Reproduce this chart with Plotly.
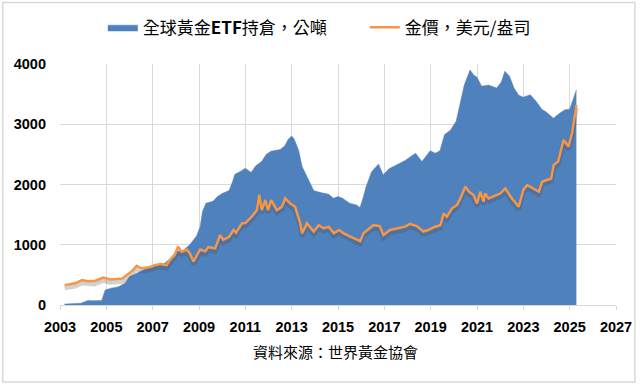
import plotly.graph_objects as go

# ---- data ----
etf_year = [2003.2, 2003.6, 2003.9, 2004.1, 2004.2, 2004.4, 2004.8, 2004.95, 2005.2, 2005.5,
            2005.8, 2006.0, 2006.3, 2006.6, 2007.0, 2007.5, 2007.8, 2008.0, 2008.3, 2008.6,
            2008.9, 2009.05, 2009.15, 2009.3, 2009.6, 2009.8, 2010.0, 2010.3, 2010.45, 2010.55,
            2010.8, 2011.0, 2011.25, 2011.45, 2011.7, 2011.9, 2012.1, 2012.3, 2012.5, 2012.7,
            2012.85, 2013.0, 2013.1, 2013.3, 2013.45, 2013.6, 2013.8, 2013.95, 2014.2, 2014.45,
            2014.6, 2014.8, 2015.0, 2015.2, 2015.5, 2015.8, 2015.95, 2016.1, 2016.2, 2016.45,
            2016.75, 2016.95, 2017.2, 2017.5, 2017.9, 2018.2, 2018.35, 2018.62, 2018.98, 2019.2,
            2019.4, 2019.6, 2019.85, 2020.1, 2020.3, 2020.45, 2020.6, 2020.7, 2020.85, 2021.0,
            2021.2, 2021.5, 2021.85, 2022.05, 2022.2, 2022.4, 2022.6, 2022.8, 2023.0, 2023.3,
            2023.55, 2023.8, 2024.0, 2024.3, 2024.55, 2024.8, 2025.0, 2025.15, 2025.29]
etf_tonnes = [15, 20, 30, 60, 75, 70, 75, 250, 280, 300,
              360, 470, 530, 580, 640, 690, 780, 880, 900, 1000,
              1150, 1300, 1550, 1690, 1720, 1800, 1850, 1900, 2050, 2170,
              2220, 2270, 2200, 2310, 2380, 2500, 2550, 2560, 2580, 2640,
              2750, 2805, 2760, 2570, 2300, 2180, 2020, 1900, 1870, 1855,
              1840, 1770, 1800, 1770, 1690, 1660, 1620, 1800, 1950, 2210,
              2340, 2160, 2260, 2320, 2400, 2480, 2520, 2380, 2560, 2520,
              2560, 2830, 2900, 3050, 3400, 3650, 3800, 3900, 3820, 3780,
              3630, 3650, 3600, 3700, 3880, 3800, 3600, 3480, 3450, 3490,
              3380, 3250, 3200, 3100, 3180, 3240, 3250, 3400, 3570]

gold_year = [2003.2, 2003.4, 2003.65, 2003.95, 2004.2, 2004.35, 2004.5, 2004.87, 2005.16, 2005.45,
             2005.7, 2005.88, 2006.1, 2006.31, 2006.5, 2006.7, 2006.89, 2007.1, 2007.32, 2007.6,
             2007.75, 2007.95, 2008.1, 2008.25, 2008.47, 2008.6, 2008.76, 2008.9, 2009.05, 2009.27,
             2009.4, 2009.7, 2009.91, 2010.05, 2010.3, 2010.49, 2010.6, 2010.85, 2011.0, 2011.28,
             2011.5, 2011.6, 2011.71, 2011.86, 2011.98, 2012.12, 2012.36, 2012.58, 2012.72, 2012.94,
             2013.15, 2013.37, 2013.45, 2013.66, 2013.95, 2014.17, 2014.38, 2014.6, 2014.82, 2015.04,
             2015.25, 2015.53, 2015.8, 2015.96, 2016.1, 2016.3, 2016.53, 2016.8, 2016.96, 2017.25,
             2017.6, 2017.9, 2018.1, 2018.4, 2018.69, 2018.9, 2019.2, 2019.42, 2019.56, 2019.7,
             2019.92, 2020.14, 2020.28, 2020.5, 2020.65, 2020.85, 2021.0, 2021.14, 2021.28, 2021.35,
             2021.5, 2021.72, 2022.0, 2022.22, 2022.5, 2022.8, 2023.0, 2023.17, 2023.45, 2023.67,
             2023.81, 2024.0, 2024.2, 2024.31, 2024.5, 2024.74, 2024.95, 2025.1, 2025.2, 2025.29]
gold_usd = [330, 340, 360, 415, 395, 400, 400, 455, 425, 430,
            440, 500, 560, 650, 610, 620, 630, 660, 680, 660,
            750, 830, 970, 880, 920, 860, 720, 820, 920, 890,
            960, 940, 1160, 1080, 1130, 1245, 1200, 1355, 1360, 1465,
            1575, 1825, 1575, 1740, 1575, 1740, 1575, 1630, 1770, 1685,
            1630, 1355, 1190, 1355, 1220, 1325, 1270, 1300, 1190, 1245,
            1190, 1135, 1080, 1060, 1190, 1250, 1325, 1310, 1160, 1245,
            1270, 1300, 1345, 1310, 1220, 1245, 1300, 1325, 1520, 1465,
            1605, 1660, 1770, 1965, 1880, 1825, 1685, 1880, 1715, 1850,
            1770, 1800, 1850, 1935, 1770, 1630, 1910, 1990, 1935, 1880,
            2045, 2075, 2100, 2325, 2380, 2740, 2630, 2850, 3070, 3320]

x_ticks = [2003, 2005, 2007, 2009, 2011, 2013, 2015, 2017, 2019, 2021, 2023, 2025, 2027]
y_ticks = [0, 1000, 2000, 3000, 4000]

name_etf = "全球黃金<b>ETF</b>持倉，公噸"
name_gold = "金價，美元/盎司"
source_text = "資料來源：世界黃金協會"

BLUE = "#4F81BD"
ORANGE = "#F79646"
GRID = "#D9D9D9"
CJK = "Noto Sans CJK TC"
TICKFONT = dict(family="Liberation Sans, Arial, sans-serif", size=14.5, color="#000000")

fig = go.Figure()
fig.add_trace(go.Scatter(x=etf_year, y=etf_tonnes, name=name_etf, mode="lines",
                         fill="tozeroy", fillcolor=BLUE, line=dict(color=BLUE, width=0.5),
                         yaxis="y"))
# soft drop shadow of the price line (same data on a slightly shifted axis)
fig.add_trace(go.Scatter(x=gold_year, y=gold_usd, mode="lines", showlegend=False,
                         line=dict(color="rgba(70,70,70,0.25)", width=4.5), yaxis="y2",
                         hoverinfo="skip"))
fig.add_trace(go.Scatter(x=gold_year, y=gold_usd, name=name_gold, mode="lines",
                         line=dict(color=ORANGE, width=2.5), yaxis="y3"))

y_max = y_ticks[-1]
shift = 50
fig.update_layout(
    width=640, height=386,
    margin=dict(l=60, r=24, t=64, b=81, autoexpand=False),
    paper_bgcolor="white", plot_bgcolor="white",
    showlegend=True,
    legend=dict(orientation="h", x=0.077, xanchor="left", y=1.151, yanchor="middle",
                font=dict(family=CJK, size=17, color="#000000"),
                entrywidthmode="pixels", entrywidth=217,
                bgcolor="rgba(0,0,0,0)", traceorder="normal"),
    xaxis=dict(range=[x_ticks[0], x_ticks[-1]], tickvals=x_ticks,
               ticktext=["<b>%d</b>" % v for v in x_ticks],
               showgrid=True, gridcolor=GRID, gridwidth=1, zeroline=False,
               showline=True, linecolor=GRID, linewidth=1, automargin=False,
               ticks="outside", ticklen=4, tickcolor=GRID, tickfont=TICKFONT,
               ticklabelstandoff=5),
    yaxis=dict(range=[0, y_max], tickvals=y_ticks, ticktext=["<b>%d</b>" % v for v in y_ticks],
               showgrid=True, gridcolor=GRID, gridwidth=1, automargin=False,
               zeroline=False, showline=False, ticks="", tickfont=TICKFONT,
               ticklabelstandoff=13),
    yaxis2=dict(range=[shift, y_max + shift], overlaying="y", visible=False, showgrid=False),
    yaxis3=dict(range=[0, y_max], overlaying="y", visible=False, showgrid=False),
    shapes=[dict(type="rect", xref="paper", yref="paper",
                 x0=-0.103, x1=1.034, y0=-0.32, y1=1.255,
                 line=dict(color=GRID, width=1.5), fillcolor="rgba(0,0,0,0)", layer="below")],
    annotations=[dict(text=source_text, xref="paper", yref="paper", x=0.496, y=-0.195,
                      xanchor="center", yanchor="middle", showarrow=False,
                      font=dict(family=CJK, size=15, color="#000000"))],
)

fig.write_html("out.html", config={"displayModeBar": False},
               post_script="document.body.style.margin='0';document.body.style.overflow='hidden';")
